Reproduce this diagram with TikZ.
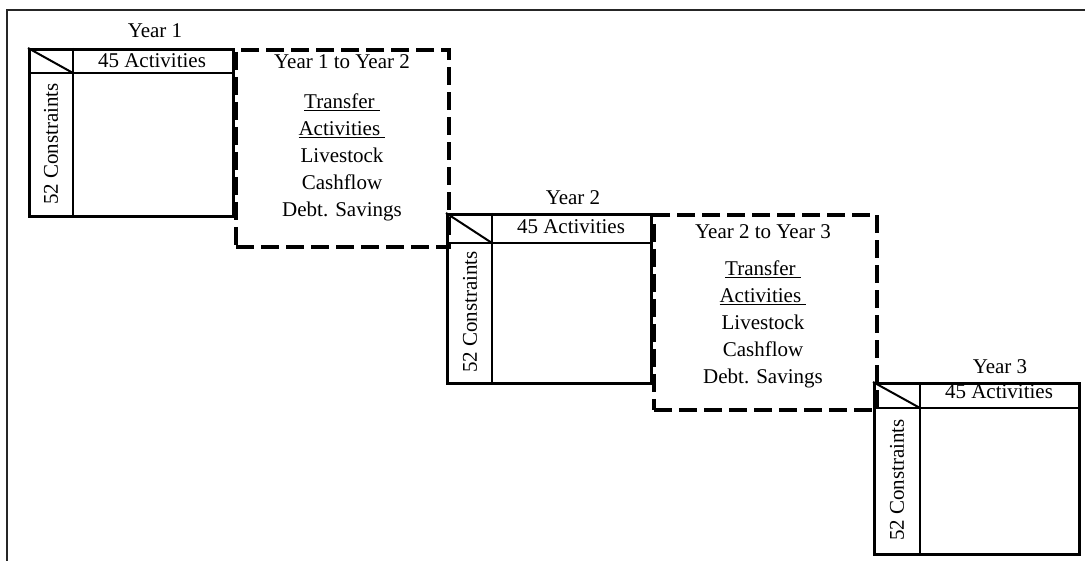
\documentclass[tikz,border=0pt]{standalone}
\usepackage{fontspec}
\setmainfont{Liberation Serif}
\usetikzlibrary{calc}
\begin{document}
\begin{tikzpicture}[x=1pt,y=-1pt,
  blk/.style={draw=black, line width=2.8pt, inner sep=0pt, anchor=north west},
  blkline/.style={draw=black, line width=2.8pt},
  diag/.style={draw=black, line width=2pt},
  transferbox/.style={draw=black, line width=4pt, dash pattern=on 18pt off 7pt, inner sep=0pt, anchor=north west},
  lbl/.style={inner sep=0pt, font=\fontsize{21}{27}\selectfont},
  lst/.style={inner sep=0pt, align=center, font=\fontsize{21}{27}\selectfont},
  frame/.style={draw=black!85, line width=1.3pt}
]
\useasboundingbox (0,0) rectangle (1085,561);
% outer frame (only left and top visible)
\coordinate (fbl) at (7,563);
\coordinate (ftl) at (7,10);
\coordinate (ftr) at (1087,10);
\draw[frame] (fbl) -- (ftl) -- (ftr);

% ---------- Year 1 block ----------
\node[blk, minimum width=204pt, minimum height=167pt] (b1) at (28,48) {};
\coordinate (b1hl) at ($(b1.north west)+(0,25)$);
\coordinate (b1hr) at ($(b1.north east)+(0,25)$);
\coordinate (b1vt) at ($(b1.north west)+(45,0)$);
\coordinate (b1vb) at ($(b1.south west)+(45,0)$);
\coordinate (b1c) at ($(b1.north west)+(45,25)$);
\draw[blkline] (b1hl) -- (b1hr);
\draw[blkline] (b1vt) -- (b1vb);
\draw[diag] (b1.north west) -- (b1c);
\node[lbl] (y1) at (155,31) {Year 1};
\node[lbl] (a1) at (152,61) {45 Activities};
\node[lbl, rotate=90] (c1) at (51,144) {52 Constraints};

% ---------- Transfer box 1 ----------
\node[transferbox, minimum width=213pt, minimum height=197pt] (t1) at (234,48) {};
\node[lbl] (t1title) at (342,62) {Year 1 to Year 2};
\node[lst] (t1list) at (342,157) {\underline{Transfer~}\\\underline{Activities~}\\Livestock\\Cashflow\\Debt. Savings};

% ---------- Year 2 block ----------
\node[blk, minimum width=204pt, minimum height=169pt] (b2) at (446,213) {};
\coordinate (b2hl) at ($(b2.north west)+(0,30)$);
\coordinate (b2hr) at ($(b2.north east)+(0,30)$);
\coordinate (b2vt) at ($(b2.north west)+(46,0)$);
\coordinate (b2vb) at ($(b2.south west)+(46,0)$);
\coordinate (b2c) at ($(b2.north west)+(46,30)$);
\draw[blkline] (b2hl) -- (b2hr);
\draw[blkline] (b2vt) -- (b2vb);
\draw[diag] (b2.north west) -- (b2c);
\node[lbl] (y2) at (573,198) {Year 2};
\node[lbl] (a2) at (571,227) {45 Activities};
\node[lbl, rotate=90] (c2) at (470,312) {52 Constraints};

% ---------- Transfer box 2 ----------
\node[transferbox, minimum width=223pt, minimum height=195pt] (t2) at (652,213) {};
\node[lbl] (t2title) at (763,232) {Year 2 to Year 3};
\node[lst] (t2list) at (763,324) {\underline{Transfer~}\\\underline{Activities~}\\Livestock\\Cashflow\\Debt. Savings};

% ---------- Year 3 block ----------
\node[blk, minimum width=205pt, minimum height=171pt] (b3) at (873,382) {};
\coordinate (b3hl) at ($(b3.north west)+(0,26)$);
\coordinate (b3hr) at ($(b3.north east)+(0,26)$);
\coordinate (b3vt) at ($(b3.north west)+(47,0)$);
\coordinate (b3vb) at ($(b3.south west)+(47,0)$);
\coordinate (b3c) at ($(b3.north west)+(47,26)$);
\draw[blkline] (b3hl) -- (b3hr);
\draw[blkline] (b3vt) -- (b3vb);
\draw[diag] (b3.north west) -- (b3c);
\node[lbl] (y3) at (1000,367) {Year 3};
\node[lbl] (a3) at (999,392) {45 Activities};
\node[lbl, rotate=90] (c3) at (897,480) {52 Constraints};
\end{tikzpicture}
\end{document}
